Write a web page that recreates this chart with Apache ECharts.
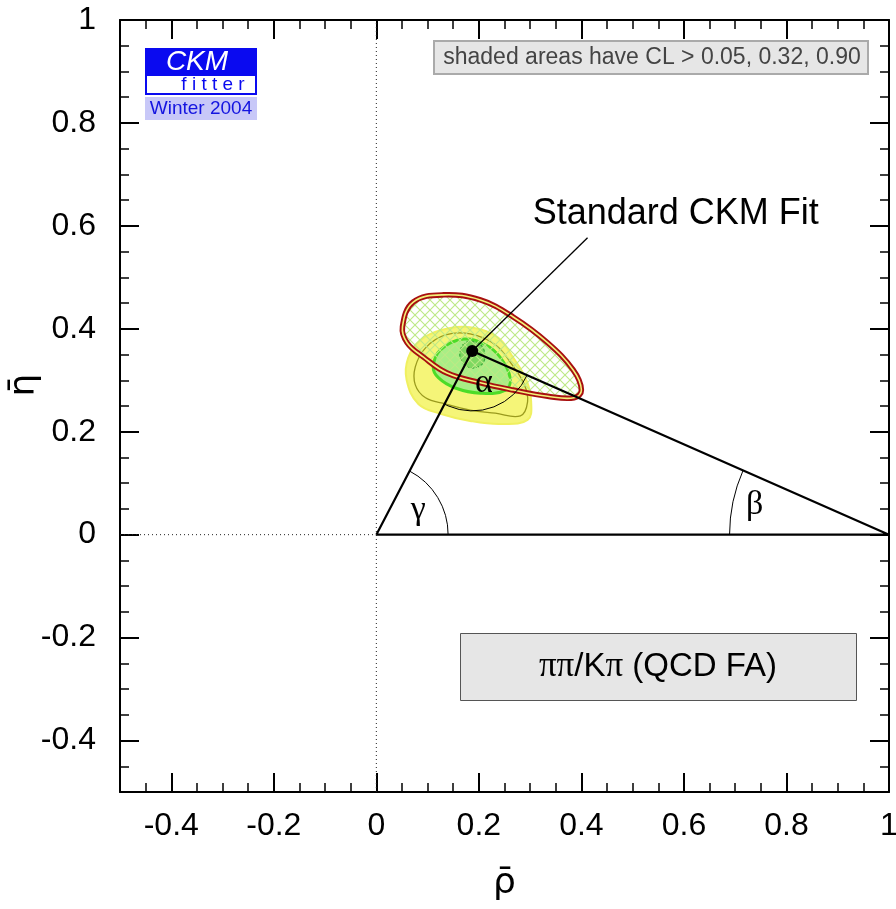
<!DOCTYPE html>
<html>
<head>
<meta charset="utf-8">
<script src="https://cdn.jsdelivr.net/npm/echarts@6/dist/echarts.min.js"></script>
<style>
  html, body { margin: 0; padding: 0; background: #fff; }
  #main { width: 896px; height: 909px; }
</style>
</head>
<body>
<div id="main"></div>
<script>
// tick values
var xTicks = [-0.4, -0.2, 0, 0.2, 0.4, 0.6, 0.8, 1];
var yTicks = [-0.4, -0.2, 0, 0.2, 0.4, 0.6, 0.8, 1];

// standard fit apex (rho, eta) and label pointer end
var apex = [0.187, 0.357];
var pointerEnd = [0.412, 0.577];

// angle arc radii (data units)
var arcGamma = 0.14;
var arcBeta = 0.311;
var arcAlpha = 0.117;

// contour outlines (rho, eta)
var yellowOuter = [[0.059,0.301],[0.062,0.343],[0.086,0.378],[0.129,0.398],[0.183,0.403],[0.236,0.384],
  [0.265,0.347],[0.293,0.300],[0.302,0.258],[0.295,0.223],[0.242,0.215],[0.183,0.221],[0.125,0.235],[0.082,0.254]];
var oliveLine = [[0.076,0.326],[0.096,0.363],[0.135,0.388],[0.183,0.390],[0.232,0.369],[0.265,0.330],
  [0.289,0.291],[0.295,0.258],[0.281,0.231],[0.232,0.236],[0.183,0.242],[0.135,0.254],[0.096,0.266],[0.076,0.291]];
var greenOuter = [[0.111,0.326],[0.125,0.359],[0.170,0.380],[0.213,0.369],[0.242,0.344],[0.261,0.305],
  [0.252,0.281],[0.203,0.275],[0.154,0.285],[0.121,0.305]];
var greenInner = [[0.164,0.359],[0.176,0.374],[0.199,0.372],[0.211,0.355],[0.207,0.332],[0.183,0.324],[0.166,0.338]];
var redContour = [[0.051,0.404],[0.072,0.452],[0.131,0.466],[0.203,0.456],[0.267,0.423],[0.334,0.373],
  [0.384,0.320],[0.400,0.281],[0.386,0.266],[0.334,0.269],[0.267,0.281],[0.203,0.295],[0.138,0.314],
  [0.092,0.345],[0.060,0.373]];

// text labels in data coords
var greekLabels = [
  { name: 'γ', value: [0.082, 0.048] },
  { name: 'β', value: [0.738, 0.058] },
  { name: 'α', value: [0.210, 0.295] }
];
var fitLabel = { name: 'Standard CKM Fit', value: [0.584, 0.622] };

// cross hatch pattern
var hatch = document.createElement('canvas');
hatch.width = 10; hatch.height = 10;
var hc = hatch.getContext('2d');
hc.strokeStyle = '#bde886';
hc.lineWidth = 1.1;
hc.beginPath();
hc.moveTo(0, 0); hc.lineTo(10, 10);
hc.moveTo(10, 0); hc.lineTo(0, 10);
hc.stroke();

function poly(pts) {
  return {
    type: 'custom',
    coordinateSystem: 'cartesian2d',
    data: [[0, 0]],
    clip: false,
    silent: true,
    renderItem: function (params, api) {
      return pts(api);
    }
  };
}

function pix(api, arr) {
  return arr.map(function (p) { return api.coord(p); });
}

var series = [
  // dotted reference lines
  { type: 'line', data: [[0, -0.5], [0, 1]], symbol: 'none', silent: true,
    lineStyle: { color: '#222', width: 1, type: [1, 3] } },
  { type: 'line', data: [[-0.5, 0], [0, 0]], symbol: 'none', silent: true,
    lineStyle: { color: '#222', width: 1, type: [1, 3] } },
  poly(function (api) {
    return { type: 'polygon', shape: { points: pix(api, yellowOuter), smooth: 0.4 },
      style: { fill: '#f5f578', stroke: '#f0f060', lineWidth: 2 } };
  }),
  poly(function (api) {
    return { type: 'polygon', shape: { points: pix(api, oliveLine), smooth: 0.4 },
      style: { fill: 'none', stroke: '#9a9a1e', lineWidth: 1.3 } };
  }),
  poly(function (api) {
    return { type: 'polygon', shape: { points: pix(api, greenOuter), smooth: 0.4 },
      style: { fill: '#a8ee86', stroke: '#4cdc28', lineWidth: 3 } };
  }),
  poly(function (api) {
    return { type: 'polygon', shape: { points: pix(api, greenInner), smooth: 0.4 },
      style: { fill: '#7ed860', stroke: '#3aa83a', lineWidth: 1.2, lineDash: [3, 2] } };
  }),
  poly(function (api) {
    var pts = pix(api, redContour);
    return { type: 'group', children: [
      { type: 'polygon', shape: { points: pts, smooth: 0.4 },
        style: { fill: { image: hatch, repeat: 'repeat' }, stroke: '#a81010', lineWidth: 5.5 } },
      { type: 'polygon', shape: { points: pts, smooth: 0.4 },
        style: { fill: 'none', stroke: '#f2f27a', lineWidth: 1.6 } }
    ] };
  }),
  // unitarity triangle
  { type: 'line', data: [[0, 0], apex, [1, 0], [0, 0]], symbol: 'none', silent: true,
    lineStyle: { color: '#000', width: 2.2 } },
  { type: 'line', data: [apex, pointerEnd], symbol: 'none', silent: true,
    lineStyle: { color: '#000', width: 1.3 } },
  // angle arcs
  poly(function (api) {
    var o = api.coord([0, 0]);
    var b = api.coord([1, 0]);
    var a = api.coord(apex);
    var rG = api.size([arcGamma, 0])[0];
    var rB = api.size([arcBeta, 0])[0];
    var rA = api.size([arcAlpha, 0])[0];
    var angOA = Math.atan2(a[1] - o[1], a[0] - o[0]);
    var angBA = Math.atan2(a[1] - b[1], a[0] - b[0]);
    var angAO = Math.atan2(o[1] - a[1], o[0] - a[0]);
    var angAB = Math.atan2(b[1] - a[1], b[0] - a[0]);
    var st = { fill: 'none', stroke: '#000', lineWidth: 1 };
    return { type: 'group', children: [
      { type: 'arc', shape: { cx: o[0], cy: o[1], r: rG, startAngle: angOA, endAngle: 0, clockwise: true }, style: st },
      { type: 'arc', shape: { cx: b[0], cy: b[1], r: rB, startAngle: -Math.PI, endAngle: angBA, clockwise: true }, style: st },
      { type: 'arc', shape: { cx: a[0], cy: a[1], r: rA, startAngle: angAB, endAngle: angAO, clockwise: true }, style: st }
    ] };
  }),
  { type: 'scatter', data: [apex], symbolSize: 12, silent: true,
    itemStyle: { color: '#000', opacity: 1 } },
  { type: 'scatter', data: greekLabels, symbolSize: 0, silent: true,
    itemStyle: { opacity: 1 },
    label: { show: true, position: 'inside', formatter: '{b}', color: '#000',
      fontFamily: 'Liberation Serif', fontSize: 34 } },
  { type: 'scatter', data: [fitLabel], symbolSize: 0, silent: true,
    itemStyle: { opacity: 1 },
    label: { show: true, position: 'inside', formatter: '{b}', color: '#000',
      fontFamily: 'Liberation Sans', fontSize: 36 } }
];

var labelFont = { fontFamily: 'Liberation Sans', fontSize: 32, color: '#000' };

function majorAxis(pos, show) {
  return {
    type: 'value', position: pos, min: -0.5, max: 1,
    axisLine: { show: true, onZero: false, lineStyle: { color: '#000', width: 2 } },
    axisTick: { show: true, inside: true, length: 19, customValues: xTicks, lineStyle: { color: '#000', width: 2 } },
    axisLabel: Object.assign({ show: show, customValues: xTicks, margin: 18 }, labelFont),
    splitLine: { show: false }
  };
}
function minorAxis(pos) {
  return {
    type: 'value', position: pos, min: -0.5, max: 1, interval: 0.05,
    axisLine: { show: false, onZero: false },
    axisTick: { show: true, inside: true, length: 9, lineStyle: { color: '#000', width: 1.5 } },
    axisLabel: { show: false },
    splitLine: { show: false }
  };
}

var xMain = majorAxis('bottom', true);
xMain.name = 'ρ\u0304';
xMain.nameLocation = 'middle';
xMain.nameGap = 74;
xMain.nameTextStyle = { fontFamily: 'DejaVu Sans', fontSize: 36, color: '#000' };

var yMain = majorAxis('left', true);
yMain.axisTick.customValues = yTicks;
yMain.axisLabel.customValues = yTicks;
yMain.axisLabel.margin = 24;

var yRight = majorAxis('right', false);
yRight.axisTick.customValues = yTicks;
yRight.axisLabel.customValues = yTicks;

var option = {
  animation: false,
  grid: { left: 120, right: 7, top: 20, bottom: 117, containLabel: false, outerBoundsMode: 'none' },
  xAxis: [xMain, minorAxis('bottom'), majorAxis('top', false), minorAxis('top')],
  yAxis: [yMain, minorAxis('left'), yRight, minorAxis('right')],
  series: series,
  graphic: [
    // y axis name
    { type: 'text', x: 25, y: 385, rotation: Math.PI / 2, style: { text: 'η\u0304', fontFamily: 'DejaVu Sans', fontSize: 36,
      fill: '#000', align: 'center', verticalAlign: 'middle' } },
    // CKMfitter logo
    { type: 'rect', shape: { x: 145, y: 48, width: 112, height: 27 }, style: { fill: '#0a0af0' } },
    { type: 'text', x: 197, y: 62, style: { text: 'CKM', fontFamily: 'Liberation Sans', fontStyle: 'italic',
      fontSize: 28, fill: '#fff', align: 'center', verticalAlign: 'middle' } },
    { type: 'rect', shape: { x: 146, y: 75, width: 110, height: 19 }, style: { fill: '#fff', stroke: '#0a0af0', lineWidth: 2 } },
    { type: 'text', x: 213, y: 85, style: { text: 'f i t t e r', fontFamily: 'Liberation Sans',
      fontSize: 19, fill: '#0a0af0', align: 'center', verticalAlign: 'middle' } },
    { type: 'rect', shape: { x: 145, y: 97, width: 112, height: 23 }, style: { fill: '#c8c8f8' } },
    { type: 'text', x: 201, y: 109, style: { text: 'Winter 2004', fontFamily: 'Liberation Sans',
      fontSize: 19, fill: '#1414e0', align: 'center', verticalAlign: 'middle' } },
    // CL note
    { type: 'rect', shape: { x: 434, y: 41, width: 434, height: 33 }, style: { fill: '#e6e6e6', stroke: '#aaa', lineWidth: 2 } },
    { type: 'text', x: 652, y: 58, style: { text: 'shaded areas have CL > 0.05, 0.32, 0.90', fontFamily: 'Liberation Sans',
      fontSize: 23, fill: '#444', align: 'center', verticalAlign: 'middle' } },
    // constraint box
    { type: 'rect', shape: { x: 460.5, y: 633.5, width: 396, height: 67 }, style: { fill: '#e6e6e6', stroke: '#555', lineWidth: 1 } },
    { type: 'text', x: 658, y: 667, style: {
      text: '{s|ππ}/K{s|π} (QCD FA)', fontFamily: 'Liberation Sans', fontSize: 33, fill: '#000',
      align: 'center', verticalAlign: 'middle',
      rich: { s: { fontFamily: 'Liberation Serif', fontSize: 35, fill: '#000' } } } }
  ]
};

var chart = echarts.init(document.getElementById('main'), null, { renderer: 'canvas' });
chart.setOption(option);
</script>
</body>
</html>
